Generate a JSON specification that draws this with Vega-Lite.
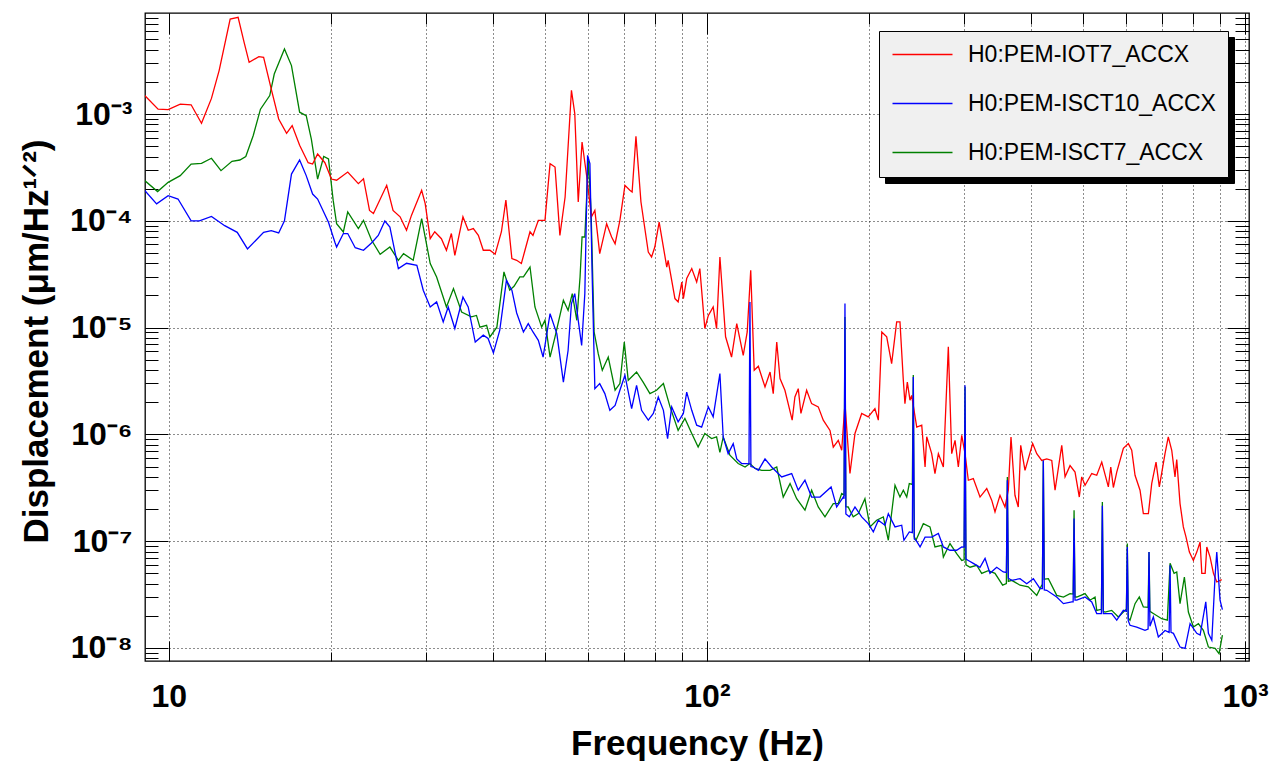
{
  "$schema": "https://vega.github.io/schema/vega-lite/v6.json",
  "width": 1104,
  "height": 648,
  "autosize": {"type": "none"},
  "padding": {"left": 145, "top": 13, "right": 25, "bottom": 100},
  "background": "white",
  "datasets": {
    "iot7": [
      {"f":9.02,"v":1.49e-3},{"f":9.55,"v":1.11e-3},{"f":9.97,"v":1.10e-3},{"f":10.5,"v":1.24e-3},{"f":11.0,"v":1.22e-3},{"f":11.5,"v":8.2e-4},{"f":12.0,"v":1.40e-3},{"f":12.4,"v":2.55e-3},{"f":13.0,"v":7.75e-3},{"f":13.45,"v":8.04e-3},{"f":13.8,"v":4.69e-3},{"f":14.1,"v":3.05e-3},{"f":14.7,"v":3.45e-3},{"f":15.0,"v":3.40e-3},{"f":15.5,"v":1.71e-3},{"f":16.0,"v":8.98e-4},{"f":16.55,"v":6.6e-4},{"f":16.95,"v":7.8e-4},{"f":17.5,"v":5.1e-4},{"f":18.15,"v":3.5e-4},{"f":18.5,"v":3.4e-4},{"f":18.9,"v":4.22e-4},{"f":19.5,"v":3.5e-4},{"f":20.05,"v":2.46e-4},{"f":20.5,"v":2.4e-4},{"f":21.5,"v":2.86e-4},{"f":22.5,"v":2.23e-4},{"f":23.0,"v":2.48e-4},{"f":23.6,"v":1.25e-4},{"f":24.0,"v":1.17e-4},{"f":25.4,"v":2.15e-4},{"f":26.1,"v":1.25e-4},{"f":26.9,"v":1.09e-4},{"f":27.65,"v":8.15e-5},{"f":28.25,"v":1.13e-4},{"f":29.5,"v":1.93e-4},{"f":29.95,"v":1.45e-4},{"f":30.6,"v":6.8e-5},{"f":31.2,"v":7.9e-5},{"f":32.1,"v":6.8e-5},{"f":32.8,"v":5.3e-5},{"f":33.5,"v":7.6e-5},{"f":34.0,"v":4.75e-5},{"f":35.2,"v":1.09e-4},{"f":36.0,"v":8.15e-5},{"f":36.8,"v":8.45e-5},{"f":37.6,"v":7.3e-5},{"f":38.4,"v":5.3e-5},{"f":39.5,"v":5.3e-5},{"f":40.4,"v":4.86e-5},{"f":41.5,"v":7.9e-5},{"f":42.3,"v":1.56e-4},{"f":43.4,"v":4.43e-5},{"f":44.3,"v":4.27e-5},{"f":45.2,"v":3.98e-5},{"f":45.9,"v":5.3e-5},{"f":46.9,"v":7.9e-5},{"f":47.5,"v":7.3e-5},{"f":48.6,"v":1.01e-4},{"f":50.0,"v":1.01e-4},{"f":51.1,"v":3.43e-4},{"f":52.2,"v":3.19e-4},{"f":53.3,"v":7.3e-5},{"f":54.5,"v":1.67e-4},{"f":56.0,"v":1.67e-3},{"f":56.8,"v":1.01e-3},{"f":57.65,"v":1.50e-4},{"f":58.6,"v":5.47e-4},{"f":59.8,"v":2.57e-4},{"f":61.0,"v":1.09e-4},{"f":61.9,"v":1.25e-4},{"f":63.2,"v":4.93e-5},{"f":65.1,"v":9.4e-5},{"f":66.5,"v":7.05e-5},{"f":67.5,"v":6.1e-5},{"f":68.9,"v":1.01e-4},{"f":70.4,"v":2.15e-4},{"f":71.9,"v":1.93e-4},{"f":72.6,"v":1.86e-4},{"f":73.8,"v":6.18e-4},{"f":75.4,"v":1.50e-4},{"f":77.8,"v":5.1e-5},{"f":78.9,"v":4.58e-5},{"f":80.0,"v":5.68e-5},{"f":81.5,"v":9.74e-5},{"f":84.2,"v":3.69e-5},{"f":84.7,"v":4.27e-5},{"f":87.2,"v":1.87e-5},{"f":88.4,"v":1.74e-5},{"f":89.8,"v":2.67e-5},{"f":90.4,"v":1.87e-5},{"f":91.7,"v":2.88e-5},{"f":93.7,"v":3.57e-5},{"f":95.7,"v":2.67e-5},{"f":97.0,"v":3.57e-5},{"f":99.1,"v":9.8e-6},{"f":100.6,"v":1.30e-5},{"f":102.7,"v":1.56e-5},{"f":104.2,"v":9.8e-6},{"f":105.7,"v":4.58e-5},{"f":108.3,"v":8.2e-6},{"f":111.1,"v":5.3e-6},{"f":113.6,"v":1.09e-5},{"f":116.8,"v":5.5e-6},{"f":118.8,"v":9.1e-6},{"f":120.6,"v":3.44e-5},{"f":122.4,"v":3.98e-6},{"f":124.6,"v":4.34e-6},{"f":128.2,"v":2.78e-6},{"f":131.0,"v":3.84e-6},{"f":132.8,"v":2.41e-6},{"f":134.8,"v":7.33e-6},{"f":136.7,"v":3.33e-6},{"f":139.6,"v":2.59e-6},{"f":144.0,"v":1.36e-6},{"f":145.7,"v":2.24e-6},{"f":147.8,"v":2.68e-6},{"f":149.5,"v":1.57e-6},{"f":153.2,"v":2.59e-6},{"f":156.5,"v":1.94e-6},{"f":161.0,"v":1.81e-6},{"f":164.5,"v":1.36e-6},{"f":169.3,"v":1.09e-6},{"f":171.7,"v":7.6e-7},{"f":175.4,"v":8.8e-7},{"f":178.0,"v":7.1e-7},{"f":180.5,"v":1.94e-6},{"f":184.4,"v":4.3e-7},{"f":188.4,"v":1.02e-6},{"f":193.9,"v":1.57e-6},{"f":199.4,"v":1.46e-6},{"f":205.2,"v":1.74e-6},{"f":208.2,"v":1.36e-6},{"f":211.3,"v":9.1e-6},{"f":215.8,"v":8.2e-6},{"f":220.4,"v":4.6e-6},{"f":225.2,"v":1.13e-5},{"f":228.4,"v":1.13e-5},{"f":231.7,"v":3.21e-6},{"f":233.3,"v":1.94e-6},{"f":235.7,"v":3.09e-6},{"f":238.4,"v":2.09e-6},{"f":240.1,"v":2.32e-6},{"f":245.4,"v":1.17e-6},{"f":250.7,"v":1.22e-6},{"f":254.3,"v":4.95e-7},{"f":256.1,"v":9.5e-7},{"f":261.6,"v":6.6e-7},{"f":265.3,"v":4.3e-7},{"f":269.2,"v":6.6e-7},{"f":275.0,"v":4.95e-7},{"f":280.9,"v":6.6e-6},{"f":285.0,"v":6.6e-7},{"f":289.1,"v":8.8e-7},{"f":293.2,"v":4.95e-7},{"f":297.5,"v":9.8e-7},{"f":301.7,"v":6.6e-7},{"f":306.0,"v":3.72e-7},{"f":312.6,"v":3.86e-7},{"f":321.7,"v":2.59e-7},{"f":331.1,"v":3.11e-7},{"f":338.2,"v":2.42e-7},{"f":343.0,"v":1.88e-7},{"f":350.4,"v":2.69e-7},{"f":358.0,"v":2.09e-7},{"f":363.1,"v":3.0e-7},{"f":367.3,"v":9.46e-7},{"f":373.6,"v":2.69e-7},{"f":378.9,"v":2.09e-7},{"f":382.9,"v":7.9e-7},{"f":390.0,"v":4.6e-7},{"f":395.5,"v":5.9e-7},{"f":403.0,"v":8.2e-7},{"f":410.1,"v":6.6e-7},{"f":418.9,"v":5.7e-7},{"f":428.0,"v":5.9e-7},{"f":437.3,"v":5.7e-7},{"f":443.5,"v":3.0e-7},{"f":456.4,"v":7.9e-7},{"f":462.9,"v":4.0e-7},{"f":472.9,"v":5.1e-7},{"f":483.1,"v":4.44e-7},{"f":492.0,"v":2.59e-7},{"f":497.1,"v":4.0e-7},{"f":504.2,"v":3.34e-7},{"f":518.9,"v":4.3e-7},{"f":530.1,"v":4.14e-7},{"f":541.6,"v":5.5e-7},{"f":557.1,"v":3.22e-7},{"f":562.9,"v":4.95e-7},{"f":569.2,"v":3.18e-7},{"f":577.5,"v":4.44e-7},{"f":594.1,"v":7.4e-7},{"f":606.9,"v":8.2e-7},{"f":615.7,"v":7.1e-7},{"f":624.5,"v":4.14e-7},{"f":638.0,"v":3.0e-7},{"f":647.1,"v":1.81e-7},{"f":661.2,"v":1.81e-7},{"f":670.7,"v":3.46e-7},{"f":683.2,"v":5.5e-7},{"f":692.9,"v":3.22e-7},{"f":710.0,"v":6.6e-7},{"f":720.0,"v":9.46e-7},{"f":730.7,"v":7.1e-7},{"f":741.0,"v":4.0e-7},{"f":746.5,"v":5.8e-7},{"f":757.1,"v":2.25e-7},{"f":767.9,"v":1.36e-7},{"f":776.8,"v":1.09e-7},{"f":788.0,"v":7.9e-8},{"f":801.6,"v":6.6e-8},{"f":813.3,"v":7.9e-8},{"f":825.0,"v":9.83e-8},{"f":831.0,"v":5.0e-8},{"f":843.0,"v":5.0e-8},{"f":849.0,"v":8.83e-8},{"f":861.0,"v":7.1e-8},{"f":873.5,"v":5.0e-8},{"f":886.0,"v":4.15e-8},{"f":905.0,"v":4.37e-8}
    ],
    "isct10": [
      {"f":9.02,"v":1.92e-4},{"f":9.49,"v":1.44e-4},{"f":9.97,"v":1.72e-4},{"f":10.4,"v":1.60e-4},{"f":11.0,"v":1.0e-4},{"f":11.4,"v":1.0e-4},{"f":12.0,"v":1.10e-4},{"f":12.7,"v":9.0e-5},{"f":13.4,"v":7.8e-5},{"f":14.0,"v":5.45e-5},{"f":15.0,"v":7.8e-5},{"f":15.5,"v":8.1e-5},{"f":16.0,"v":7.7e-5},{"f":16.4,"v":1.0e-4},{"f":16.9,"v":2.74e-4},{"f":17.5,"v":3.71e-4},{"f":18.0,"v":2.65e-4},{"f":18.5,"v":1.78e-4},{"f":18.9,"v":1.60e-4},{"f":19.8,"v":9.7e-5},{"f":20.35,"v":6.3e-5},{"f":20.5,"v":5.68e-5},{"f":21.1,"v":7.6e-5},{"f":21.5,"v":7.6e-5},{"f":22.2,"v":5.6e-5},{"f":23.0,"v":5.3e-5},{"f":23.8,"v":6.2e-5},{"f":24.5,"v":7.3e-5},{"f":25.2,"v":9.95e-5},{"f":25.75,"v":8.75e-5},{"f":26.7,"v":3.57e-5},{"f":27.65,"v":4.0e-5},{"f":28.9,"v":3.83e-5},{"f":29.7,"v":2.24e-5},{"f":30.6,"v":1.56e-5},{"f":31.45,"v":1.74e-5},{"f":32.35,"v":1.13e-5},{"f":33.05,"v":1.56e-5},{"f":34.0,"v":9.8e-6},{"f":35.2,"v":1.93e-5},{"f":36.0,"v":1.56e-5},{"f":37.1,"v":7.33e-6},{"f":38.4,"v":8.5e-6},{"f":39.2,"v":7.9e-6},{"f":40.1,"v":5.8e-6},{"f":41.2,"v":9.4e-6},{"f":42.4,"v":2.77e-5},{"f":43.4,"v":2.24e-5},{"f":44.3,"v":1.37e-5},{"f":45.6,"v":9.1e-6},{"f":46.55,"v":1.09e-5},{"f":47.5,"v":9.1e-6},{"f":48.6,"v":7.6e-6},{"f":49.6,"v":5.3e-6},{"f":51.1,"v":1.35e-5},{"f":52.6,"v":8.79e-6},{"f":54.1,"v":3.09e-6},{"f":55.2,"v":6.1e-6},{"f":56.0,"v":1.68e-5},{"f":56.8,"v":2.08e-5},{"f":57.65,"v":1.17e-5},{"f":58.5,"v":6.8e-6},{"f":59.3,"v":2.08e-5},{"f":60.0,"v":4.1e-4},{"f":60.6,"v":3.43e-4},{"f":61.2,"v":2.98e-5},{"f":61.9,"v":2.68e-6},{"f":63.2,"v":2.99e-6},{"f":64.6,"v":2.41e-6},{"f":66.0,"v":1.68e-6},{"f":67.5,"v":1.87e-6},{"f":68.9,"v":2.59e-6},{"f":70.4,"v":3.58e-6},{"f":72.45,"v":1.74e-6},{"f":74.0,"v":2.88e-6},{"f":75.6,"v":1.68e-6},{"f":77.8,"v":1.36e-6},{"f":79.5,"v":1.57e-6},{"f":81.2,"v":2.24e-6},{"f":83.0,"v":1.68e-6},{"f":84.5,"v":9.13e-7},{"f":86.0,"v":1.81e-6},{"f":88.4,"v":1.31e-6},{"f":90.4,"v":1.57e-6},{"f":91.7,"v":2.49e-6},{"f":93.7,"v":1.68e-6},{"f":95.7,"v":1.22e-6},{"f":97.75,"v":1.17e-6},{"f":100.6,"v":1.81e-6},{"f":102.7,"v":1.46e-6},{"f":105.7,"v":3.71e-6},{"f":107.2,"v":9.46e-7},{"f":109.5,"v":6.6e-7},{"f":111.9,"v":8.2e-7},{"f":113.6,"v":5.9e-7},{"f":116.0,"v":5.33e-7},{"f":118.5,"v":5.33e-7},{"f":119.7,"v":5.3e-7},{"f":120.2,"v":1.74e-5},{"f":120.7,"v":5.0e-7},{"f":121.9,"v":4.95e-7},{"f":124.6,"v":4.6e-7},{"f":128.2,"v":5.9e-7},{"f":131.9,"v":4.95e-7},{"f":137.7,"v":4.0e-7},{"f":143.7,"v":4.3e-7},{"f":147.8,"v":3.0e-7},{"f":152.1,"v":3.72e-7},{"f":156.5,"v":2.59e-7},{"f":162.2,"v":2.59e-7},{"f":170.1,"v":3.22e-7},{"f":174.2,"v":2.09e-7},{"f":179.2,"v":2.59e-7},{"f":179.8,"v":2.5e-7},{"f":180.5,"v":1.68e-5},{"f":181.2,"v":1.8e-7},{"f":183.9,"v":1.69e-7},{"f":188.4,"v":2.09e-7},{"f":193.9,"v":1.69e-7},{"f":199.4,"v":1.46e-7},{"f":203.8,"v":1.22e-7},{"f":208.2,"v":1.57e-7},{"f":214.2,"v":1.41e-7},{"f":217.3,"v":1.81e-7},{"f":223.6,"v":1.36e-7},{"f":230.1,"v":1.41e-7},{"f":232.3,"v":1.02e-7},{"f":237.7,"v":1.22e-7},{"f":240.8,"v":1.2e-7},{"f":241.8,"v":3.45e-6},{"f":242.8,"v":1.05e-7},{"f":244.6,"v":1.02e-7},{"f":248.9,"v":8.83e-8},{"f":254.3,"v":1.09e-7},{"f":261.6,"v":1.09e-7},{"f":269.2,"v":1.18e-7},{"f":275.0,"v":8.83e-8},{"f":282.9,"v":8.22e-8},{"f":291.1,"v":8.22e-8},{"f":297.5,"v":8.83e-8},{"f":300.5,"v":8.8e-8},{"f":301.7,"v":2.88e-6},{"f":302.9,"v":6.8e-8},{"f":306.0,"v":6.6e-8},{"f":312.6,"v":6.2e-8},{"f":321.7,"v":5.7e-8},{"f":328.7,"v":6.9e-8},{"f":335.7,"v":5.0e-8},{"f":345.5,"v":5.7e-8},{"f":355.4,"v":5.15e-8},{"f":360.1,"v":5.1e-8},{"f":361.6,"v":3.72e-7},{"f":363.1,"v":4.5e-8},{"f":368.5,"v":4.3e-8},{"f":381.8,"v":4.46e-8},{"f":392.9,"v":4.0e-8},{"f":404.2,"v":4.46e-8},{"f":415.9,"v":3.6e-8},{"f":420.1,"v":3.6e-8},{"f":421.8,"v":5.7e-7},{"f":423.5,"v":3.5e-8},{"f":428.0,"v":3.47e-8},{"f":446.7,"v":3.0e-8},{"f":459.7,"v":2.6e-8},{"f":476.4,"v":2.7e-8},{"f":479.2,"v":2.7e-8},{"f":481.1,"v":1.63e-7},{"f":483.0,"v":2.8e-8},{"f":486.7,"v":2.8e-8},{"f":504.2,"v":3.0e-8},{"f":518.9,"v":2.7e-8},{"f":530.1,"v":2.1e-8},{"f":540.8,"v":2.1e-8},{"f":543.0,"v":2.15e-7},{"f":545.2,"v":2.1e-8},{"f":549.3,"v":2.1e-8},{"f":565.2,"v":2.1e-8},{"f":577.5,"v":1.82e-8},{"f":594.1,"v":2.25e-8},{"f":601.8,"v":2.2e-8},{"f":604.2,"v":8.83e-8},{"f":606.6,"v":1.8e-8},{"f":611.2,"v":1.63e-8},{"f":629.0,"v":1.57e-8},{"f":651.7,"v":1.46e-8},{"f":660.4,"v":1.5e-8},{"f":663.0,"v":7.9e-8},{"f":665.6,"v":1.6e-8},{"f":675.4,"v":1.95e-8},{"f":690.0,"v":1.27e-8},{"f":710.0,"v":1.46e-8},{"f":722.6,"v":1.4e-8},{"f":725.5,"v":5.95e-8},{"f":728.4,"v":1.4e-8},{"f":736.0,"v":1.37e-8},{"f":757.1,"v":1.02e-8},{"f":773.6,"v":9.9e-9},{"f":790.4,"v":1.69e-8},{"f":813.3,"v":1.37e-8},{"f":825.0,"v":1.32e-8},{"f":845.3,"v":2.7e-8},{"f":854.8,"v":1.37e-8},{"f":867.4,"v":1.18e-8},{"f":879.7,"v":4.8e-8},{"f":886.0,"v":7.9e-8},{"f":898.5,"v":2.8e-8},{"f":907.6,"v":2.29e-8}
    ],
    "isct7": [
      {"f":9.02,"v":2.38e-4},{"f":9.53,"v":1.88e-4},{"f":9.97,"v":2.29e-4},{"f":10.5,"v":2.65e-4},{"f":11.0,"v":3.40e-4},{"f":11.5,"v":3.45e-4},{"f":12.0,"v":3.85e-4},{"f":12.5,"v":2.95e-4},{"f":13.1,"v":3.61e-4},{"f":13.55,"v":3.71e-4},{"f":13.9,"v":4.0e-4},{"f":14.35,"v":6.3e-4},{"f":14.8,"v":1.11e-3},{"f":15.4,"v":1.49e-3},{"f":15.7,"v":2.37e-3},{"f":16.4,"v":4.06e-3},{"f":16.9,"v":2.84e-3},{"f":17.5,"v":1.04e-3},{"f":18.0,"v":9.66e-4},{"f":18.4,"v":5.83e-4},{"f":18.9,"v":2.46e-4},{"f":19.4,"v":4.0e-4},{"f":19.8,"v":3.79e-4},{"f":20.2,"v":1.56e-4},{"f":20.5,"v":9.41e-5},{"f":21.1,"v":7.86e-5},{"f":21.5,"v":1.21e-4},{"f":22.5,"v":8.45e-5},{"f":23.0,"v":1.01e-4},{"f":23.8,"v":6.6e-5},{"f":24.7,"v":4.86e-5},{"f":25.75,"v":5.68e-5},{"f":26.7,"v":4.27e-5},{"f":27.3,"v":4.93e-5},{"f":28.45,"v":4.27e-5},{"f":29.5,"v":1.05e-4},{"f":30.6,"v":3.98e-5},{"f":31.45,"v":2.98e-5},{"f":32.8,"v":1.56e-5},{"f":33.8,"v":2.32e-5},{"f":35.0,"v":1.40e-5},{"f":36.5,"v":1.26e-5},{"f":37.3,"v":1.30e-5},{"f":37.85,"v":1.01e-5},{"f":38.95,"v":1.05e-5},{"f":39.5,"v":8.17e-6},{"f":40.7,"v":1.01e-5},{"f":41.95,"v":3.32e-5},{"f":43.0,"v":2.24e-5},{"f":43.8,"v":2.44e-5},{"f":44.9,"v":2.98e-5},{"f":45.6,"v":2.98e-5},{"f":46.9,"v":3.69e-5},{"f":47.9,"v":1.56e-5},{"f":49.3,"v":1.01e-5},{"f":50.0,"v":1.17e-5},{"f":51.1,"v":5.3e-6},{"f":52.2,"v":8.2e-6},{"f":54.1,"v":1.80e-5},{"f":55.2,"v":1.45e-5},{"f":56.2,"v":2.08e-5},{"f":57.3,"v":1.17e-5},{"f":58.1,"v":2.98e-5},{"f":58.6,"v":7.05e-5},{"f":59.3,"v":7.05e-5},{"f":60.2,"v":3.69e-4},{"f":60.9,"v":1.25e-4},{"f":61.7,"v":9.1e-6},{"f":62.8,"v":5.7e-6},{"f":63.9,"v":3.98e-6},{"f":65.55,"v":5.3e-6},{"f":67.5,"v":2.59e-6},{"f":68.9,"v":2.99e-6},{"f":70.2,"v":7.33e-6},{"f":71.4,"v":3.21e-6},{"f":74.0,"v":3.84e-6},{"f":76.1,"v":3.09e-6},{"f":78.35,"v":2.41e-6},{"f":80.6,"v":2.59e-6},{"f":83.0,"v":2.99e-6},{"f":85.4,"v":1.81e-6},{"f":88.4,"v":1.09e-6},{"f":91.0,"v":1.41e-6},{"f":93.7,"v":1.02e-6},{"f":96.3,"v":7.6e-7},{"f":99.1,"v":1.02e-6},{"f":102.0,"v":9.13e-7},{"f":104.2,"v":9.46e-7},{"f":105.7,"v":6.8e-7},{"f":107.2,"v":9.46e-7},{"f":110.3,"v":6.4e-7},{"f":114.3,"v":5.33e-7},{"f":117.7,"v":4.95e-7},{"f":120.2,"v":5.33e-7},{"f":122.8,"v":4.8e-7},{"f":126.4,"v":4.6e-7},{"f":131.0,"v":4.6e-7},{"f":134.8,"v":4.95e-7},{"f":138.6,"v":2.59e-7},{"f":142.7,"v":3.46e-7},{"f":146.8,"v":2.5e-7},{"f":152.1,"v":1.95e-7},{"f":156.5,"v":3.0e-7},{"f":161.0,"v":2.09e-7},{"f":165.7,"v":1.69e-7},{"f":171.7,"v":2.25e-7},{"f":175.4,"v":2.25e-7},{"f":178.0,"v":2.79e-7},{"f":179.8,"v":2.7e-7},{"f":180.5,"v":1.26e-5},{"f":181.2,"v":2.1e-7},{"f":183.0,"v":2.09e-7},{"f":187.0,"v":1.69e-7},{"f":191.1,"v":1.81e-7},{"f":196.6,"v":2.5e-7},{"f":200.9,"v":1.36e-7},{"f":206.7,"v":1.57e-7},{"f":212.7,"v":1.69e-7},{"f":217.3,"v":1.02e-7},{"f":223.6,"v":3.34e-7},{"f":228.4,"v":2.59e-7},{"f":231.7,"v":3.0e-7},{"f":235.1,"v":2.59e-7},{"f":237.7,"v":3.46e-7},{"f":240.8,"v":3.4e-7},{"f":241.8,"v":3.6e-6},{"f":242.8,"v":1.1e-7},{"f":244.6,"v":1.02e-7},{"f":252.4,"v":1.46e-7},{"f":259.7,"v":1.36e-7},{"f":265.3,"v":8.83e-8},{"f":273.1,"v":9.15e-8},{"f":275.0,"v":7.1e-8},{"f":282.9,"v":9.5e-8},{"f":291.1,"v":7.65e-8},{"f":297.5,"v":6.6e-8},{"f":300.5,"v":6.7e-8},{"f":301.7,"v":2.78e-6},{"f":302.9,"v":6.0e-8},{"f":308.3,"v":5.7e-8},{"f":317.1,"v":5.95e-8},{"f":324.0,"v":5.0e-8},{"f":333.3,"v":5.3e-8},{"f":343.0,"v":5.0e-8},{"f":354.4,"v":3.87e-8},{"f":360.1,"v":4.0e-8},{"f":361.6,"v":4.0e-7},{"f":363.1,"v":4.2e-8},{"f":368.5,"v":4.3e-8},{"f":381.8,"v":3.87e-8},{"f":395.5,"v":3.73e-8},{"f":410.1,"v":3.11e-8},{"f":418.9,"v":3.87e-8},{"f":420.1,"v":3.9e-8},{"f":421.8,"v":5.7e-7},{"f":423.5,"v":4.4e-8},{"f":431.0,"v":4.46e-8},{"f":446.7,"v":3.11e-8},{"f":459.7,"v":3.0e-8},{"f":472.9,"v":3.23e-8},{"f":479.2,"v":3.2e-8},{"f":481.1,"v":1.95e-7},{"f":483.0,"v":3.0e-8},{"f":486.7,"v":3.0e-8},{"f":504.2,"v":3.23e-8},{"f":515.1,"v":2.8e-8},{"f":526.3,"v":3.0e-8},{"f":530.1,"v":2.25e-8},{"f":540.8,"v":2.3e-8},{"f":543.0,"v":2.33e-7},{"f":545.2,"v":2.2e-8},{"f":549.3,"v":2.17e-8},{"f":565.2,"v":2.25e-8},{"f":581.5,"v":1.95e-8},{"f":598.4,"v":2.25e-8},{"f":601.8,"v":2.3e-8},{"f":604.2,"v":9.5e-8},{"f":606.6,"v":1.9e-8},{"f":611.2,"v":1.82e-8},{"f":624.5,"v":2.6e-8},{"f":636.0,"v":3.0e-8},{"f":647.1,"v":2.42e-8},{"f":660.4,"v":2.4e-8},{"f":663.0,"v":7.9e-8},{"f":665.6,"v":2.2e-8},{"f":675.4,"v":2.1e-8},{"f":700.0,"v":1.88e-8},{"f":717.0,"v":1.82e-8},{"f":725.5,"v":6.2e-8},{"f":738.0,"v":5.0e-8},{"f":746.5,"v":5.15e-8},{"f":757.1,"v":2.6e-8},{"f":771.3,"v":4.62e-8},{"f":784.6,"v":2.17e-8},{"f":801.6,"v":1.57e-8},{"f":819.0,"v":1.69e-8},{"f":836.6,"v":1.46e-8},{"f":854.8,"v":1.02e-8},{"f":879.7,"v":9.9e-9},{"f":894.6,"v":8.86e-9},{"f":907.6,"v":1.32e-8}
    ]
  },
  "resolve": {"axis": {"x": "independent", "y": "independent"}},
  "layer": [
    {
      "data": {"name": "isct7"},
      "mark": {"type": "point", "opacity": 0},
      "encoding": {
        "x": {"field": "f", "type": "quantitative", "scale": {"type": "log", "domain": [9.03, 1017], "nice": false},
          "axis": {"orient": "bottom", "values": [10, 100, 1000], "offset": -20, "tickSize": 20,
            "labels": false, "domain": false, "title": null, "grid": false, "ticks": true, "tickColor": "#000", "tickWidth": 1}},
        "y": {"field": "v", "type": "quantitative", "scale": {"type": "log", "domain": [7.55e-9, 8.83e-3], "nice": false},
          "axis": {"orient": "left", "values": [1e-8, 1e-7, 1e-6, 1e-5, 1e-4, 1e-3], "offset": -23, "tickSize": 23,
            "labels": false, "domain": false, "title": null, "grid": false, "ticks": true, "tickColor": "#000", "tickWidth": 1}}
      }
    },
    {
      "data": {"name": "isct7"},
      "mark": {"type": "point", "opacity": 0},
      "encoding": {
        "x": {"field": "f", "type": "quantitative", "scale": {"type": "log", "domain": [9.03, 1017], "nice": false},
          "axis": {"orient": "bottom", "values": [20,30,40,50,60,70,80,90,200,300,400,500,600,700,800,900], "offset": -9, "tickSize": 9,
            "labels": false, "domain": false, "title": null, "grid": false, "ticks": true, "tickColor": "#000", "tickWidth": 1}},
        "y": {"field": "v", "type": "quantitative", "scale": {"type": "log", "domain": [7.55e-9, 8.83e-3], "nice": false},
          "axis": {"orient": "left", "values": [8e-9,9e-9,2e-8,3e-8,4e-8,5e-8,6e-8,7e-8,8e-8,9e-8,2e-7,3e-7,4e-7,5e-7,6e-7,7e-7,8e-7,9e-7,2e-6,3e-6,4e-6,5e-6,6e-6,7e-6,8e-6,9e-6,2e-5,3e-5,4e-5,5e-5,6e-5,7e-5,8e-5,9e-5,2e-4,3e-4,4e-4,5e-4,6e-4,7e-4,8e-4,9e-4,2e-3,3e-3,4e-3,5e-3,6e-3,7e-3,8e-3],
            "offset": -13, "tickSize": 13,
            "labels": false, "domain": false, "title": null, "grid": false, "ticks": true, "tickColor": "#000", "tickWidth": 1}}
      }
    },
    {
      "data": {"name": "isct7"},
      "mark": {"type": "point", "opacity": 0},
      "encoding": {
        "x": {"field": "f", "type": "quantitative", "scale": {"type": "log", "domain": [9.03, 1017], "nice": false},
          "axis": {"orient": "top", "values": [10, 100, 1000], "offset": -21, "tickSize": 21,
            "labels": false, "domain": false, "title": null, "grid": false, "ticks": true, "tickColor": "#000", "tickWidth": 1}},
        "y": {"field": "v", "type": "quantitative", "scale": {"type": "log", "domain": [7.55e-9, 8.83e-3], "nice": false},
          "axis": {"orient": "right", "values": [1e-8, 1e-7, 1e-6, 1e-5, 1e-4, 1e-3], "offset": -22, "tickSize": 22,
            "labels": false, "domain": false, "title": null, "grid": false, "ticks": true, "tickColor": "#000", "tickWidth": 1}}
      }
    },
    {
      "data": {"name": "isct7"},
      "mark": {"type": "point", "opacity": 0},
      "encoding": {
        "x": {"field": "f", "type": "quantitative", "scale": {"type": "log", "domain": [9.03, 1017], "nice": false},
          "axis": {"orient": "top", "values": [20,30,40,50,60,70,80,90,200,300,400,500,600,700,800,900], "offset": -11, "tickSize": 11,
            "labels": false, "domain": false, "title": null, "grid": false, "ticks": true, "tickColor": "#000", "tickWidth": 1}},
        "y": {"field": "v", "type": "quantitative", "scale": {"type": "log", "domain": [7.55e-9, 8.83e-3], "nice": false},
          "axis": {"orient": "right", "values": [8e-9,9e-9,2e-8,3e-8,4e-8,5e-8,6e-8,7e-8,8e-8,9e-8,2e-7,3e-7,4e-7,5e-7,6e-7,7e-7,8e-7,9e-7,2e-6,3e-6,4e-6,5e-6,6e-6,7e-6,8e-6,9e-6,2e-5,3e-5,4e-5,5e-5,6e-5,7e-5,8e-5,9e-5,2e-4,3e-4,4e-4,5e-4,6e-4,7e-4,8e-4,9e-4,2e-3,3e-3,4e-3,5e-3,6e-3,7e-3,8e-3],
            "offset": -14, "tickSize": 14,
            "labels": false, "domain": false, "title": null, "grid": false, "ticks": true, "tickColor": "#000", "tickWidth": 1}}
      }
    },
    {
      "data": {"name": "isct7"},
      "mark": {"type": "line", "opacity": 0},
      "encoding": {
        "x": {"field": "f", "type": "quantitative", "scale": {"type": "log", "domain": [9.03, 1017], "nice": false}, "axis": null},
        "y": {"field": "v", "type": "quantitative", "scale": {"type": "log", "domain": [7.55e-9, 8.83e-3], "nice": false}, "axis": null},
        "strokeDash": {"datum": "s3", "type": "nominal",
          "scale": {"domain": ["s1", "s2", "s3"]},
          "legend": {"title": null, "orient": "none", "legendX": 740, "legendY": 24, "zindex": 0,
            "padding": 12, "fillColor": "#000", "strokeColor": "#000",
            "labelExpr": "'\u2003\u2003'",
            "labelFont": "Liberation Sans", "labelFontSize": 23, "labelColor": "#000", "labelOpacity": 0, "labelLimit": 500,
            "symbolType": "M-1,0H5", "symbolSize": 400, "symbolStrokeWidth": 1.3, "symbolOpacity": 0, "labelOffset": 302,
            "rowPadding": 25}}
      }
    },
    {
      "data": {"name": "isct7"},
      "mark": {"type": "line", "strokeWidth": 1.3, "clip": true},
      "encoding": {
        "x": {"field": "f", "type": "quantitative", "scale": {"type": "log", "domain": [9.03, 1017], "nice": false},
          "axis": {"orient": "bottom", "values": [10,20,30,40,50,60,70,80,90,100,200,300,400,500,600,700,800,900,1000],
            "labelExpr": "datum.value == 10 ? '10' : datum.value == 100 ? '10²' : datum.value == 1000 ? '10³' : ''",
            "ticks": false, "domain": false,
            "grid": true, "gridColor": "#1a1a1a", "gridDash": [1, 3], "gridWidth": 1, "gridOpacity": 1,
            "labelFont": "Liberation Sans", "labelFontWeight": "bold", "labelFontSize": 32, "labelColor": "#000",
            "labelPadding": 20, "labelBaseline": "top", "labelFlush": false, "labelOverlap": false, "labelBound": false,
            "title": "Frequency (Hz)", "titleFont": "Liberation Sans", "titleFontSize": 35, "titleFontWeight": "bold", "titleColor": "#000",
            "titleBaseline": "alphabetic", "titleAlign": "center", "titleX": 552, "titleY": 93}},
        "y": {"field": "v", "type": "quantitative", "scale": {"type": "log", "domain": [7.55e-9, 8.83e-3], "nice": false},
          "axis": {"orient": "left", "values": [1e-8, 1e-7, 1e-6, 1e-5, 1e-4, 1e-3],
            "labelExpr": "'10⁻' + ['⁰','¹','²','³','⁴','⁵','⁶','⁷','⁸','⁹'][-round(log(datum.value)/LN10)]",
            "ticks": false, "domain": false,
            "grid": true, "gridColor": "#1a1a1a", "gridDash": [1, 3], "gridWidth": 1, "gridOpacity": 1,
            "labelFont": "Liberation Sans", "labelFontWeight": "bold", "labelFontSize": 32, "labelColor": "#000",
            "labelPadding": 13, "labelBaseline": "middle", "labelFlush": false, "labelOverlap": false, "labelBound": false,
            "title": "Displacement (μm/Hz¹ᐟ²)", "titleFont": "Liberation Sans", "titleFontSize": 35, "titleFontWeight": "bold", "titleColor": "#000",
            "titleAngle": 270, "titleBaseline": "alphabetic", "titleAlign": "left", "titleX": -98, "titleY": 530}},
        "color": {"datum": "H0:PEM-ISCT7_ACCX", "type": "nominal",
          "scale": {"domain": ["H0:PEM-IOT7_ACCX", "H0:PEM-ISCT10_ACCX", "H0:PEM-ISCT7_ACCX"], "range": ["#ff0000", "#0000ff", "#008000"]},
          "legend": {"title": null, "orient": "none", "legendX": 734, "legendY": 18, "zindex": 1,
            "padding": 12, "fillColor": "#f0f0f0", "strokeColor": "#000",
            "labelFont": "Liberation Sans", "labelFontSize": 23, "labelColor": "#000", "labelLimit": 500,
            "symbolType": "M-1,0H5", "symbolSize": 400, "symbolStrokeWidth": 1.3, "labelOffset": 54,
            "rowPadding": 25}}
      }
    },
    {
      "data": {"name": "iot7"},
      "mark": {"type": "line", "strokeWidth": 1.3, "clip": true},
      "encoding": {
        "x": {"field": "f", "type": "quantitative", "scale": {"type": "log", "domain": [9.03, 1017], "nice": false}, "axis": null},
        "y": {"field": "v", "type": "quantitative", "scale": {"type": "log", "domain": [7.55e-9, 8.83e-3], "nice": false}, "axis": null},
        "color": {"datum": "H0:PEM-IOT7_ACCX", "type": "nominal"}
      }
    },
    {
      "data": {"name": "isct10"},
      "mark": {"type": "line", "strokeWidth": 1.3, "clip": true},
      "encoding": {
        "x": {"field": "f", "type": "quantitative", "scale": {"type": "log", "domain": [9.03, 1017], "nice": false}, "axis": null},
        "y": {"field": "v", "type": "quantitative", "scale": {"type": "log", "domain": [7.55e-9, 8.83e-3], "nice": false}, "axis": null},
        "color": {"datum": "H0:PEM-ISCT10_ACCX", "type": "nominal"}
      }
    }
  ],
  "config": {
    "view": {"stroke": "#000", "strokeWidth": 1.3},
    "font": "Liberation Sans"
  }
}
